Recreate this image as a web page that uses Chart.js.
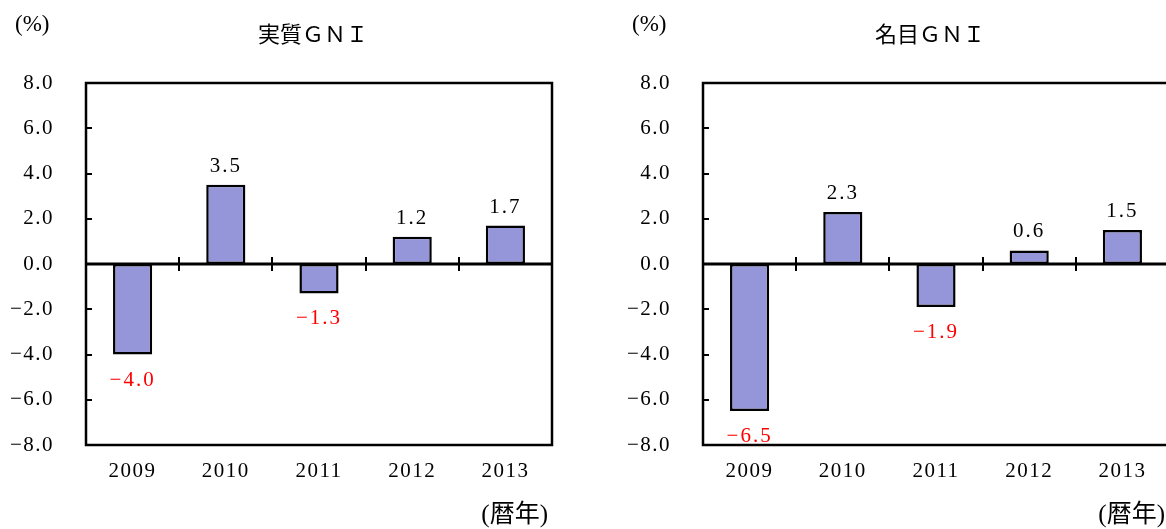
<!DOCTYPE html>
<html>
<head>
<meta charset="utf-8">
<script src="https://cdn.jsdelivr.net/npm/chart.js@4.4.1/dist/chart.umd.min.js"></script>
<style>
  html, body { margin: 0; padding: 0; background: #fff; overflow: hidden; width: 1166px; height: 529px; }
  .panel { position: absolute; top: 0; width: 583px; height: 529px; }
</style>
</head>
<body>
<div class="panel" style="left:0"><canvas id="realChart" width="583" height="529"></canvas></div>
<div class="panel" style="left:617px"><canvas id="nominalChart" width="583" height="529"></canvas></div>
<script>
// GNI growth rates (%, calendar year)
const years = ['2009', '2010', '2011', '2012', '2013'];
const realGNI = [-4.0, 3.5, -1.3, 1.2, 1.7];
const nominalGNI = [-6.5, 2.3, -1.9, 0.6, 1.5];
const yMin = -8, yMax = 8, yStep = 2;

const FONT = "'Liberation Serif', 'Noto Sans CJK JP', serif";
const BAR_COLOR = '#9595DA';

function fmt(v) {
  return (v < 0 ? '\u2212' : '') + Math.abs(v).toFixed(1);
}

// Frame, zero line, tick marks and value labels
const framePlugin = {
  id: 'frame',
  beforeDraw(chart) {
    chart.ctx.letterSpacing = '1.5px';
  },
  afterDatasetsDraw(chart, args, opts) {
    const { ctx, chartArea: a, scales: { x, y } } = chart;
    const zero = y.getPixelForValue(0);
    ctx.save();
    ctx.strokeStyle = '#000';
    ctx.lineWidth = 2.5;
    ctx.strokeRect(a.left, a.top, a.right - a.left, a.bottom - a.top);

    // small inward ticks on the value axis
    ctx.lineWidth = 2;
    ctx.beginPath();
    y.ticks.forEach(t => {
      const py = Math.round(y.getPixelForValue(t.value));
      ctx.moveTo(a.left, py);
      ctx.lineTo(a.left + 6, py);
    });
    ctx.stroke();

    // zero line with category separators
    ctx.lineWidth = 3;
    ctx.beginPath();
    ctx.moveTo(a.left, zero);
    ctx.lineTo(a.right, zero);
    ctx.stroke();
    ctx.lineWidth = 2;
    ctx.beginPath();
    for (let i = 1; i < years.length; i++) {
      const px = Math.round((x.getPixelForValue(i - 1) + x.getPixelForValue(i)) / 2);
      ctx.moveTo(px, zero - 7);
      ctx.lineTo(px, zero + 7);
    }
    ctx.stroke();

    // value labels
    ctx.letterSpacing = '2px';
    ctx.font = '21px ' + FONT;
    ctx.textAlign = 'center';
    const values = chart.data.datasets[0].data;
    chart.getDatasetMeta(0).data.forEach((bar, i) => {
      const v = values[i];
      if (v >= 0) {
        ctx.fillStyle = '#000';
        ctx.textBaseline = 'bottom';
        ctx.fillText(fmt(v), bar.x, bar.y - 8);
      } else {
        ctx.fillStyle = '#FF0000';
        ctx.textBaseline = 'top';
        ctx.fillText(fmt(v), bar.x, bar.y + 15);
      }
    });

    // titles and unit labels
    ctx.letterSpacing = '0px';
    ctx.fillStyle = '#000';
    ctx.font = '22px ' + FONT;
    ctx.textBaseline = 'middle';
    ctx.textAlign = 'center';
    ctx.fillText(opts.title, (a.left + a.right) / 2 - 6, 36);
    ctx.textAlign = 'left';
    ctx.font = '23px ' + FONT;
    ctx.fillText('(%)', 15, 25);
    ctx.textAlign = 'right';
    ctx.font = '25px ' + FONT;
    ctx.fillText('(暦年)', 548, 515);
    ctx.restore();
  }
};

function makeChart(id, values, title) {
  return new Chart(document.getElementById(id), {
    type: 'bar',
    data: {
      labels: years,
      datasets: [{
        data: values,
        backgroundColor: BAR_COLOR,
        borderColor: '#000',
        borderWidth: 2.5,
        borderSkipped: false,
        barPercentage: 0.42,
        categoryPercentage: 1.0
      }]
    },
    options: {
      responsive: false,
      animation: false,
      devicePixelRatio: 1,
      layout: { padding: { top: 83, right: 31, bottom: 0, left: 0 } },
      plugins: {
        legend: { display: false },
        tooltip: { enabled: false },
        frame: { title: title }
      },
      scales: {
        x: {
          grid: { display: false },
          border: { display: false },
          ticks: { color: '#000', font: { family: FONT, size: 21 }, padding: 6, maxRotation: 0 },
          afterFit: s => { s.height = 84; }
        },
        y: {
          min: yMin,
          max: yMax,
          grid: { display: false },
          border: { display: false },
          ticks: {
            stepSize: yStep,
            color: '#000',
            font: { family: FONT, size: 21 },
            padding: 24,
            callback: v => fmt(v)
          },
          afterFit: s => { s.width = 86; }
        }
      }
    },
    plugins: [framePlugin]
  });
}

makeChart('realChart', realGNI, '実質ＧＮＩ');
makeChart('nominalChart', nominalGNI, '名目ＧＮＩ');
</script>
</body>
</html>
